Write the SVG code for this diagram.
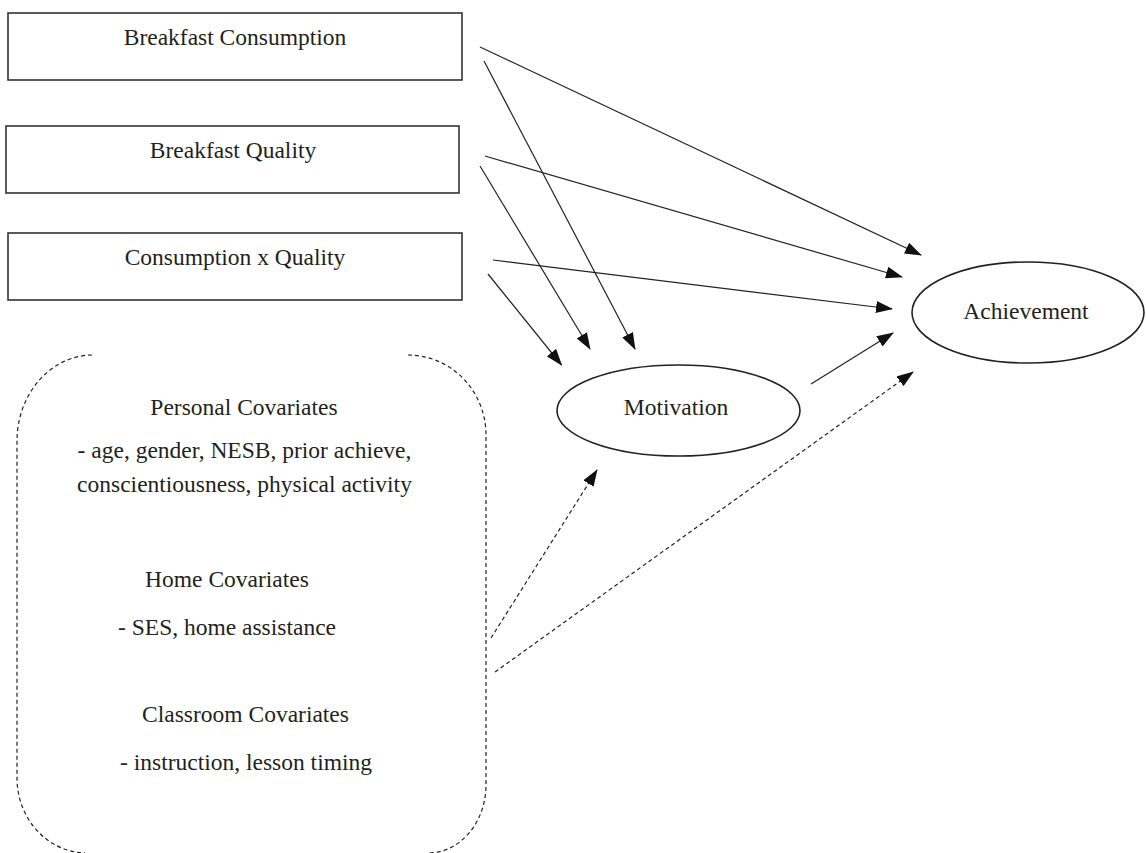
<svg xmlns="http://www.w3.org/2000/svg" width="1146" height="853" viewBox="0 0 1146 853">
<style>
.box{fill:#fff;stroke:#333;stroke-width:1.6}
.ell{fill:#fff;stroke:#222;stroke-width:1.6}
.t{font-family:"Liberation Serif","Times New Roman",serif;font-size:23.5px;fill:#231f20;text-anchor:middle}
.c{stroke:#222;stroke-width:1.2;fill:none}
.d{stroke:#222;stroke-width:1.2;fill:none;stroke-dasharray:4 3}
</style>
<defs>
<marker id="ah" viewBox="0 0 17 12" refX="16" refY="6" markerWidth="17" markerHeight="12" markerUnits="userSpaceOnUse" orient="auto">
<path d="M0,0 L17,6 L0,12 Z" fill="#111"/>
</marker>
</defs>
<rect width="1146" height="853" fill="#fff"/>
<g id="consumption">
<rect class="box" x="8" y="13" width="454" height="67"/>
<text class="t" x="235" y="45">Breakfast Consumption</text>
</g>
<g id="quality">
<rect class="box" x="6" y="126" width="453" height="67"/>
<text class="t" x="233" y="158">Breakfast Quality</text>
</g>
<g id="interaction">
<rect class="box" x="8" y="233" width="454" height="67"/>
<text class="t" x="235" y="265">Consumption x Quality</text>
</g>
<g id="motivation">
<ellipse class="ell" cx="678.5" cy="410.5" rx="121.5" ry="45.5"/>
<text class="t" x="676" y="415">Motivation</text>
</g>
<g id="achievement">
<ellipse class="ell" cx="1028" cy="312.5" rx="116" ry="50.5"/>
<text class="t" x="1026" y="319">Achievement</text>
</g>
<g id="covariates">
<path class="d" d="M92,355 A76,86 0 0 0 17,440 L17,778 A70,75 0 0 0 85,853"/>
<path class="d" d="M408,355 A78,80 0 0 1 486,435 L486,785 A58,68 0 0 1 428,853"/>
<text class="t" x="244" y="415">Personal Covariates</text>
<text class="t" x="244.5" y="458">- age, gender, NESB, prior achieve,</text>
<text class="t" x="244.5" y="492">conscientiousness, physical activity</text>
<text class="t" x="227" y="587">Home Covariates</text>
<text class="t" x="227" y="635">- SES, home assistance</text>
<text class="t" x="245.5" y="722">Classroom Covariates</text>
<text class="t" x="246" y="770">- instruction, lesson timing</text>
</g>
<g id="connectors">
<line class="c" x1="480" y1="47" x2="921" y2="255" marker-end="url(#ah)"/>
<line class="c" x1="485" y1="156" x2="902" y2="277" marker-end="url(#ah)"/>
<line class="c" x1="493" y1="260" x2="892" y2="309" marker-end="url(#ah)"/>
<line class="c" x1="484" y1="61" x2="635" y2="349" marker-end="url(#ah)"/>
<line class="c" x1="480" y1="166" x2="590" y2="349" marker-end="url(#ah)"/>
<line class="c" x1="488" y1="274" x2="561.5" y2="365" marker-end="url(#ah)"/>
<line class="c" x1="811" y1="384" x2="893" y2="333" marker-end="url(#ah)"/>
<line class="d" x1="491" y1="638" x2="597" y2="470" marker-end="url(#ah)"/>
<line class="d" x1="495" y1="672" x2="913" y2="372" marker-end="url(#ah)"/>
</g>
</svg>
